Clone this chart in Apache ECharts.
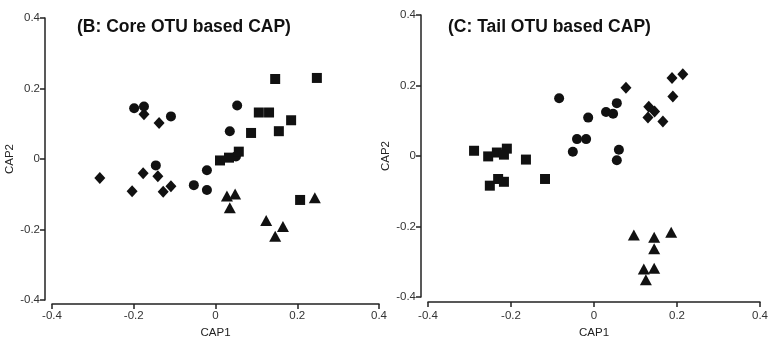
<!DOCTYPE html>
<html>
<head>
<meta charset="utf-8">
<script src="https://cdn.jsdelivr.net/npm/echarts@6/dist/echarts.min.js"></script>
<style>
html,body{margin:0;padding:0;background:#fff;}
#c{width:772px;height:344px;}
</style>
</head>
<body>
<div id="c"></div>
<script>
// Panel B: Core OTU based CAP  [CAP1, CAP2]
const coreCircles = [[-0.199,0.144],[-0.175,0.149],[-0.109,0.121],[0.053,0.152],[0.035,0.079],[0.050,0.007],[-0.146,-0.018],[-0.021,-0.032],[-0.053,-0.074],[-0.021,-0.088]];
const coreDiamonds = [[-0.175,0.127],[-0.138,0.102],[-0.283,-0.054],[-0.204,-0.091],[-0.177,-0.040],[-0.141,-0.049],[-0.128,-0.093],[-0.109,-0.077]];
const coreSquares = [[0.146,0.227],[0.248,0.230],[0.106,0.132],[0.131,0.132],[0.185,0.110],[0.087,0.074],[0.155,0.079],[0.011,-0.004],[0.033,0.004],[0.057,0.021],[0.207,-0.116]];
const coreTriangles = [[0.028,-0.105],[0.048,-0.099],[0.035,-0.138],[0.124,-0.174],[0.165,-0.191],[0.146,-0.219],[0.243,-0.110]];

// Panel C: Tail OTU based CAP  [CAP1, CAP2]
const tailSquares = [[-0.289,0.015],[-0.255,-0.001],[-0.234,0.010],[-0.210,0.021],[-0.217,0.004],[-0.164,-0.010],[-0.251,-0.084],[-0.231,-0.065],[-0.217,-0.073],[-0.118,-0.065]];
const tailCircles = [[-0.084,0.164],[-0.014,0.109],[-0.041,0.048],[-0.019,0.048],[-0.051,0.012],[0.029,0.125],[0.046,0.120],[0.055,0.150],[0.060,0.018],[0.055,-0.012]];
const tailDiamonds = [[0.077,0.194],[0.132,0.140],[0.146,0.126],[0.130,0.109],[0.166,0.098],[0.188,0.221],[0.214,0.232],[0.190,0.169]];
const tailTriangles = [[0.096,-0.224],[0.145,-0.230],[0.186,-0.216],[0.145,-0.263],[0.120,-0.320],[0.145,-0.318],[0.125,-0.351]];

const titles = ['(B: Core OTU based CAP)', '(C: Tail OTU based CAP)'];
const xName = 'CAP1';
const yName = 'CAP2';
const axisMin = -0.4, axisMax = 0.4, axisStep = 0.2;

const ink = '#111';
const fontFam = 'Arial, "Liberation Sans", Helvetica, sans-serif';

function fmt(v) { return Math.abs(v) < 1e-9 ? '0' : String(+v.toFixed(1)); }

function xAx(gi, off, margin, gap) {
  return {
    gridIndex: gi, type: 'value', min: axisMin, max: axisMax, interval: axisStep,
    offset: off,
    name: xName, nameLocation: 'middle', nameGap: gap,
    nameTextStyle: {color: '#222', fontSize: 11.5, fontFamily: fontFam},
    axisLine: {show: true, onZero: false, lineStyle: {color: '#222', width: 1.5}},
    axisTick: {show: true, length: 5, lineStyle: {color: '#222', width: 1.5}},
    axisLabel: {color: '#333', fontSize: 11.5, fontFamily: fontFam, margin: margin, formatter: fmt},
    splitLine: {show: false}
  };
}
function yAx(gi, off, gap) {
  return {
    gridIndex: gi, type: 'value', min: axisMin, max: axisMax, interval: axisStep,
    offset: off,
    name: yName, nameLocation: 'middle', nameGap: gap, nameRotate: 90,
    nameTextStyle: {color: '#222', fontSize: 11.5, fontFamily: fontFam},
    axisLine: {show: true, onZero: false, lineStyle: {color: '#222', width: 1.5}},
    axisTick: {show: true, length: 5, lineStyle: {color: '#222', width: 1.5}},
    axisLabel: {color: '#333', fontSize: 11.5, fontFamily: fontFam, margin: 5, formatter: fmt},
    splitLine: {show: false}
  };
}
function sc(gi, data, symbol, size) {
  return {type: 'scatter', xAxisIndex: gi, yAxisIndex: gi, data: data,
    symbol: symbol, symbolSize: size, itemStyle: {color: ink, opacity: 1},
    emphasis: {disabled: true}, animation: false};
}

const chart = echarts.init(document.getElementById('c'), null, {renderer: 'canvas'});
chart.setOption({
  animation: false,
  backgroundColor: '#fff',
  title: [
    {text: titles[0], left: 72, top: 13, textStyle: {fontSize: 17.5, fontWeight: 'bold', color: ink, fontFamily: fontFam}},
    {text: titles[1], left: 443, top: 13, textStyle: {fontSize: 17.5, fontWeight: 'bold', color: ink, fontFamily: fontFam}}
  ],
  grid: [
    {left: 52, top: 18, width: 327, height: 287},
    {left: 428, top: 15, width: 332, height: 291}
  ],
  xAxis: [xAx(0, 4, 6, 17), xAx(1, 5, 8, 23)],
  yAxis: [yAx(0, 7, 25), yAx(1, 7, 23)],
  series: [
    sc(0, coreCircles, 'circle', 10),
    sc(0, coreDiamonds, 'diamond', [11, 12]),
    sc(0, coreSquares, 'rect', 10),
    sc(0, coreTriangles, 'triangle', [12, 11]),
    sc(1, tailSquares, 'rect', 10),
    sc(1, tailCircles, 'circle', 10),
    sc(1, tailDiamonds, 'diamond', [11, 12]),
    sc(1, tailTriangles, 'triangle', [12, 11])
  ]
});
</script>
</body>
</html>
